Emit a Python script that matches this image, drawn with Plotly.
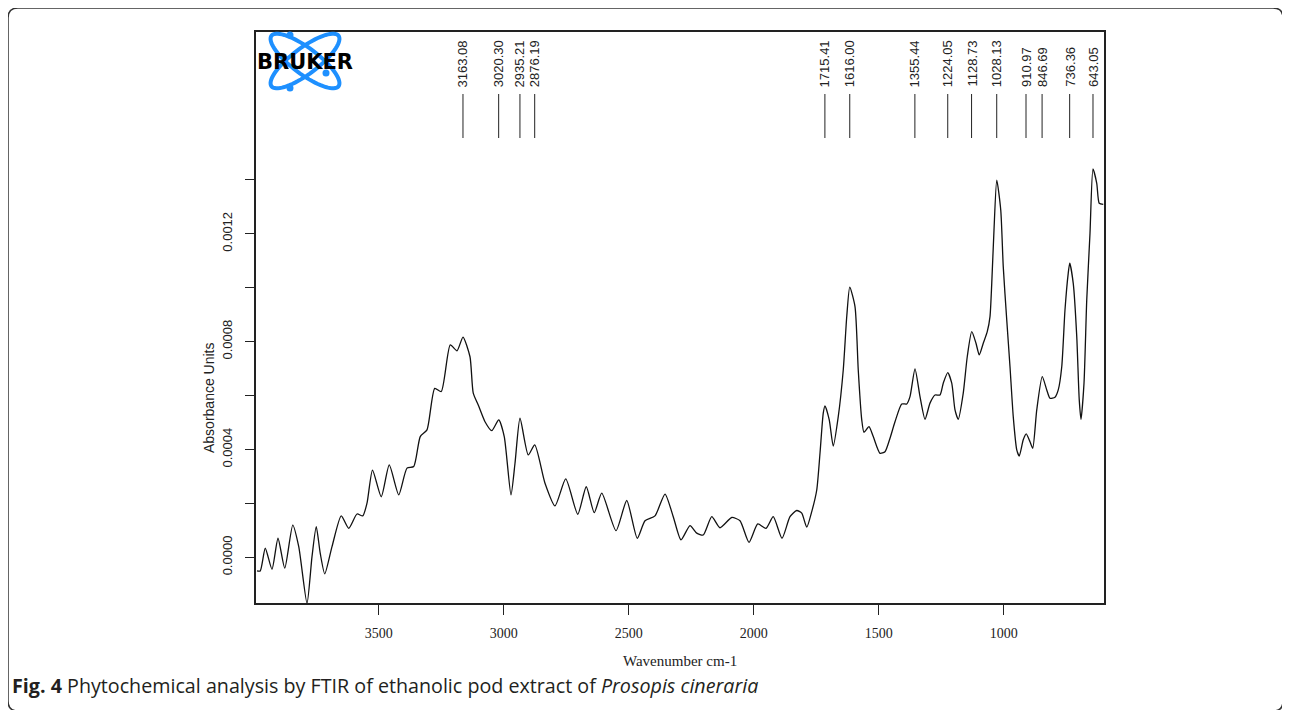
import numpy as np
import plotly.graph_objects as go

# ---------------- data ----------------
wavenumber = [3987, 3974, 3954, 3927, 3903, 3876, 3844, 3820, 3787, 3767, 3750, 3734, 3716,
              3687, 3650, 3620, 3587, 3564, 3547, 3525, 3490, 3458, 3420, 3387, 3360, 3334,
              3307, 3276, 3250, 3214, 3187, 3163, 3135, 3122, 3102, 3075, 3048, 3020, 2998,
              2971, 2955, 2935, 2902, 2876, 2835, 2795, 2752, 2704, 2670, 2638, 2608, 2551,
              2508, 2466, 2435, 2395, 2355, 2322, 2291, 2255, 2228, 2202, 2168, 2135, 2088,
              2055, 2019, 1984, 1951, 1922, 1887, 1855, 1828, 1808, 1788, 1768, 1748, 1735,
              1722, 1715, 1698, 1682, 1662, 1642, 1628, 1616, 1595, 1582, 1568, 1559, 1539,
              1522, 1495, 1475, 1455, 1435, 1408, 1388, 1375, 1355, 1335, 1315, 1295, 1275,
              1255, 1242, 1224, 1208, 1195, 1182, 1162, 1146, 1128, 1111, 1098, 1082, 1066,
              1055, 1048, 1039, 1028, 1012, 1002, 988, 975, 962, 948, 938, 922, 910, 895, 884,
              868, 846, 828, 815, 795, 782, 768, 755, 742, 736, 722, 708, 698, 691, 679, 668,
              655, 643, 628, 618, 602]
absorbance = [-0.000050, -0.000050, 0.000034, -0.000044, 0.000071, -0.000040, 0.000120,
              0.000040, -0.000170, 0.000003, 0.000114, 0.000015, -0.000061, 0.000040,
              0.000154, 0.000108, 0.000161, 0.000154, 0.000201, 0.000324, 0.000225, 0.000343,
              0.000232, 0.000331, 0.000337, 0.000448, 0.000473, 0.000627, 0.000615, 0.000788,
              0.000766, 0.000817, 0.000744, 0.000609, 0.000565, 0.000503, 0.000470, 0.000510,
              0.000448, 0.000232, 0.000349, 0.000516, 0.000380, 0.000417, 0.000275, 0.000191,
              0.000291, 0.000160, 0.000262, 0.000166, 0.000238, 0.000099, 0.000211, 0.000071,
              0.000136, 0.000154, 0.000235, 0.000151, 0.000065, 0.000118, 0.000090, 0.000083,
              0.000151, 0.000110, 0.000148, 0.000136, 0.000056, 0.000124, 0.000108, 0.000151,
              0.000071, 0.000151, 0.000174, 0.000164, 0.000112, 0.000170, 0.000250, 0.000386,
              0.000535, 0.000562, 0.000510, 0.000413, 0.000522, 0.000695, 0.000893, 0.001002,
              0.000930, 0.000695, 0.000510, 0.000464, 0.000485, 0.000448, 0.000386, 0.000392,
              0.000442, 0.000503, 0.000569, 0.000569, 0.000596, 0.000699, 0.000596, 0.000512,
              0.000572, 0.000602, 0.000602, 0.000646, 0.000685, 0.000646, 0.000547, 0.000512,
              0.000609, 0.000744, 0.000837, 0.000794, 0.000751, 0.000794, 0.000837, 0.000893,
              0.001016, 0.001214, 0.001399, 0.001288, 0.001078, 0.000880, 0.000707, 0.000522,
              0.000399, 0.000376, 0.000436, 0.000458, 0.000429, 0.000405, 0.000547, 0.000670,
              0.000621, 0.000590, 0.000594, 0.000621, 0.000707, 0.000918, 0.001054, 0.001091,
              0.001016, 0.000819, 0.000584, 0.000512, 0.000646, 0.000955, 0.001202, 0.001440,
              0.001387, 0.001313, 0.001309]

peak_positions = [3163.08, 3020.30, 2935.21, 2876.19, 1715.41, 1616.00, 1355.44, 1224.05,
                  1128.73, 1028.13, 910.97, 846.69, 736.36, 643.05]
peak_labels = ["3163.08", "3020.30", "2935.21", "2876.19", "1715.41", "1616.00", "1355.44",
               "1224.05", "1128.73", "1028.13", "910.97", "846.69", "736.36", "643.05"]

x_ticks = [3500, 3000, 2500, 2000, 1500, 1000]
y_ticks = [0.0, 0.0004, 0.0008, 0.0012]
y_minor_ticks = [0.0002, 0.0006, 0.0010, 0.0014]

# ---------------- layout geometry ----------------
# the page body adds an 8px margin, so the figure is drawn 8px smaller and all
# pixel positions below are given in window coordinates.
OFF = 8
W, H = 1290 - OFF, 710 - OFF
PL, PR, PT, PB = 256, 1104, 32, 603          # plot area in window pixels
ML, MT = PL - OFF, PT - OFF
MR, MB = W - (PR - OFF), H - (PB - OFF)
PW, PH = PR - PL, PB - PT


def px(x):
    return (x - PL) / PW


def py(y):
    return (PB - y) / PH


fig = go.Figure()
fig.add_trace(go.Scatter(x=wavenumber, y=absorbance, mode="lines",
                         line=dict(color="#111111", width=1.3, shape="spline", smoothing=0.6),
                         hoverinfo="skip", showlegend=False))

shapes = []
annotations = []

# peak markers
for pk, lab in zip(peak_positions, peak_labels):
    shapes.append(dict(type="line", xref="x", yref="paper", x0=pk, x1=pk,
                       y0=py(138), y1=py(94), line=dict(color="#222222", width=1)))
    annotations.append(dict(x=pk, y=py(89), xref="x", yref="paper", text=lab,
                            textangle=-90, showarrow=False, xanchor="center", yanchor="bottom",
                            font=dict(family="Liberation Sans", size=13, color="#222222")))

# Bruker logo (decorative)
cx, cy, a, b = 305, 61, 42, 13
for ang in (37, -37):
    t = np.linspace(0, 2 * np.pi, 73)
    th = np.deg2rad(ang)
    ex = cx + a * np.cos(t) * np.cos(th) - b * np.sin(t) * np.sin(th)
    ey = cy + a * np.cos(t) * np.sin(th) + b * np.sin(t) * np.cos(th)
    path = "M " + " L ".join(f"{px(u):.5f},{py(v):.5f}" for u, v in zip(ex, ey)) + " Z"
    shapes.append(dict(type="path", xref="paper", yref="paper", path=path,
                       line=dict(color="#1e90ff", width=4)))
for (dx, dy) in [(290, 35), (290, 88), (326, 73)]:
    shapes.append(dict(type="circle", xref="paper", yref="paper",
                       x0=px(dx - 3.5), x1=px(dx + 3.5), y0=py(dy + 3.5), y1=py(dy - 3.5),
                       fillcolor="#1e90ff", line=dict(width=0)))
annotations.append(dict(x=px(305), y=py(62), xref="paper", yref="paper", text="<b>BRUKER</b>",
                        showarrow=False, xanchor="center", yanchor="middle",
                        font=dict(family="DejaVu Sans", size=21, color="#000000")))

# axis titles
annotations.append(dict(x=0.5, y=py(661), xref="paper", yref="paper", text="Wavenumber cm-1",
                        showarrow=False, xanchor="center", yanchor="middle",
                        font=dict(family="Liberation Serif", size=15, color="#222222")))
annotations.append(dict(x=px(209), y=py(398), xref="paper", yref="paper", text="Absorbance Units",
                        showarrow=False, xanchor="center", yanchor="middle", textangle=-90,
                        font=dict(family="Liberation Sans", size=14, color="#222222")))

# caption
annotations.append(dict(x=px(10), y=py(685), xref="paper", yref="paper",
                        text="<b>Fig. 4</b> Phytochemical analysis by FTIR of ethanolic pod extract of "
                             "<i>Prosopis cineraria</i>",
                        showarrow=False, xanchor="left", yanchor="middle",
                        font=dict(family="Open Sans", size=19.7, color="#231f20")))

# rounded outer border
x0, y0, x1, y1, r = 8, 8, 1283, 711, 10
border = (f"M {px(x0 + r)},{py(y0)} L {px(x1 - r)},{py(y0)} Q {px(x1)},{py(y0)} {px(x1)},{py(y0 + r)} "
          f"L {px(x1)},{py(y1 - r)} Q {px(x1)},{py(y1)} {px(x1 - r)},{py(y1)} "
          f"L {px(x0 + r)},{py(y1)} Q {px(x0)},{py(y1)} {px(x0)},{py(y1 - r)} "
          f"L {px(x0)},{py(y0 + r)} Q {px(x0)},{py(y0)} {px(x0 + r)},{py(y0)} Z")
shapes.append(dict(type="path", xref="paper", yref="paper", path=border,
                   line=dict(color="#333333", width=1.5)))

fig.update_layout(
    width=W, height=H,
    margin=dict(l=ML, r=MR, t=MT, b=MB),
    paper_bgcolor="white", plot_bgcolor="white",
    shapes=shapes, annotations=annotations,
    xaxis=dict(range=[3991, 599], tickvals=x_ticks, ticktext=[str(v) for v in x_ticks],
               showgrid=False, zeroline=False, showline=True, linecolor="#222222", linewidth=1.5,
               mirror=True, ticks="outside", ticklen=10, tickwidth=1.2, tickcolor="#222222",
               ticklabelstandoff=6,
               tickfont=dict(family="Liberation Serif", size=14, color="#222222")),
    yaxis=dict(range=[-0.000169, 0.001948], tickvals=y_ticks, tickformat=".4f",
               tickangle=-90, showgrid=False, zeroline=False, showline=True,
               linecolor="#222222", linewidth=1.5, mirror=True, ticks="outside", ticklen=9,
               tickwidth=1.2, tickcolor="#222222", ticklabelstandoff=8,
               minor=dict(tickvals=y_minor_ticks, ticks="outside", ticklen=9, tickwidth=1.2,
                          tickcolor="#222222", showgrid=False),
               tickfont=dict(family="Liberation Sans", size=13, color="#222222")),
)

fig.write_html("out.html")
